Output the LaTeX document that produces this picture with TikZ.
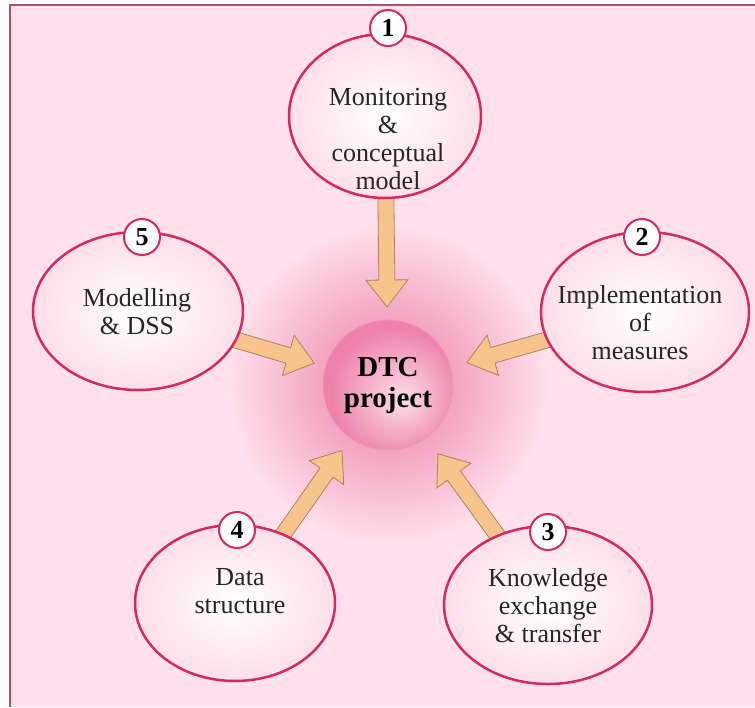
\documentclass[tikz,border=0pt]{standalone}
\usepackage{fontspec}
\setmainfont{Liberation Serif}
\usetikzlibrary{shapes.geometric,calc}
\definecolor{bg}{RGB}{255,224,236}
\definecolor{framec}{RGB}{170,80,115}
\definecolor{rim}{RGB}{212,42,98}
\definecolor{efill}{RGB}{253,222,234}
\definecolor{afill}{RGB}{247,196,140}
\definecolor{aline}{RGB}{175,130,100}
\definecolor{glowc}{RGB}{238,135,172}
\definecolor{hubc}{RGB}{238,130,172}
\definecolor{hubin}{RGB}{252,222,236}
\pgfdeclareradialshading{glowshade}{\pgfpoint{0bp}{0bp}}{color(0bp)=(glowc); color(11bp)=(glowc!65!bg); color(25bp)=(bg); color(50bp)=(bg)}
\pgfdeclareradialshading{hubshade}{\pgfpoint{6bp}{-6bp}}{color(0bp)=(hubin); color(25bp)=(hubc); color(50bp)=(hubc)}
\newcommand\blockarrow[2]{%
  \coordinate (ah) at ($(#2)!27pt!(#1)$);
  \draw[arrowbody] ($(#1)!8pt!90:(#2)$) -- ($(ah)!8pt!90:(#2)$) -- ($(ah)!21pt!90:(#2)$) -- (#2)
    -- ($(ah)!21pt!-90:(#2)$) -- ($(ah)!8pt!-90:(#2)$) -- ($(#1)!8pt!-90:(#2)$) -- cycle;}
\tikzset{
  bubble/.style={ellipse, draw=rim, line width=2.5pt, inner color=white, outer color=efill, inner sep=0pt},
  numc/.style={circle, draw=rim, line width=2pt, fill=white, minimum size=36pt, inner sep=0pt, font=\fontsize{26}{26}\selectfont\bfseries},
  lbl/.style={align=center, font=\fontsize{26}{28}\selectfont, text=black!85},
  hub/.style={circle, minimum size=130pt, shading=hubshade, draw=hubc!85!white, line width=0.8pt, align=center, font=\fontsize{29}{31}\selectfont\bfseries},
  arrowbody/.style={draw=aline, line width=0.8pt, fill=afill, line join=miter}
}
\begin{document}
\begin{tikzpicture}[x=1pt,y=-1pt]
\useasboundingbox (0,0) rectangle (755,707);
\fill[white] (0,0) rectangle (755,707);
\fill[bg] (10,5) rectangle (755,707);
\draw[framec, line width=2pt] (10,707) -- (10,5) -- (755,5);
% glow and hub
\shade[shading=glowshade] (388,385) circle (160pt);
\node[hub] (hub) at (388,385) {DTC\\project};
% ellipses positions
\coordinate (c1) at (385,116);
\coordinate (c2) at (645,312);
\coordinate (c3) at (548,605);
\coordinate (c4) at (235,603);
\coordinate (c5) at (138,311);
% arrow tips
\coordinate (t1) at ($(hub.center)!78pt!(c1)$);
\coordinate (t2) at ($(hub.center)!82pt!(c2)$);
\coordinate (t3) at ($(hub.center)!85pt!(c3)$);
\coordinate (t4) at ($(hub.center)!80pt!(c4)$);
\coordinate (t5) at ($(hub.center)!77pt!(c5)$);
\blockarrow{c1}{t1}
\blockarrow{c2}{t2}
\blockarrow{c3}{t3}
\blockarrow{c4}{t4}
\blockarrow{c5}{t5}
% bubbles
\node[bubble, minimum width=192pt, minimum height=164pt] (e1) at (c1) {};
\node[bubble, minimum width=208pt, minimum height=160pt] (e2) at (c2) {};
\node[bubble, minimum width=208pt, minimum height=158pt] (e3) at (c3) {};
\node[bubble, minimum width=200pt, minimum height=156pt] (e4) at (c4) {};
\node[bubble, minimum width=210pt, minimum height=158pt] (e5) at (c5) {};
% numbers
\node[numc] (n1) at (388,28) {1};
\node[numc] (n2) at (642,237) {2};
\node[numc] (n3) at (548,532) {3};
\node[numc] (n4) at (237,530) {4};
\node[numc] (n5) at (142,237) {5};
% labels
\node[lbl] (l1) at (388,139) {Monitoring\\\&\\conceptual\\model};
\node[lbl] (l2) at (640,323) {Implementation\\of\\measures};
\node[lbl] (l3) at (548,606) {Knowledge\\exchange\\\& transfer};
\node[lbl] (l4) at (240,591) {Data\\structure};
\node[lbl] (l5) at (137,312) {Modelling\\\& DSS};
\end{tikzpicture}
\end{document}
